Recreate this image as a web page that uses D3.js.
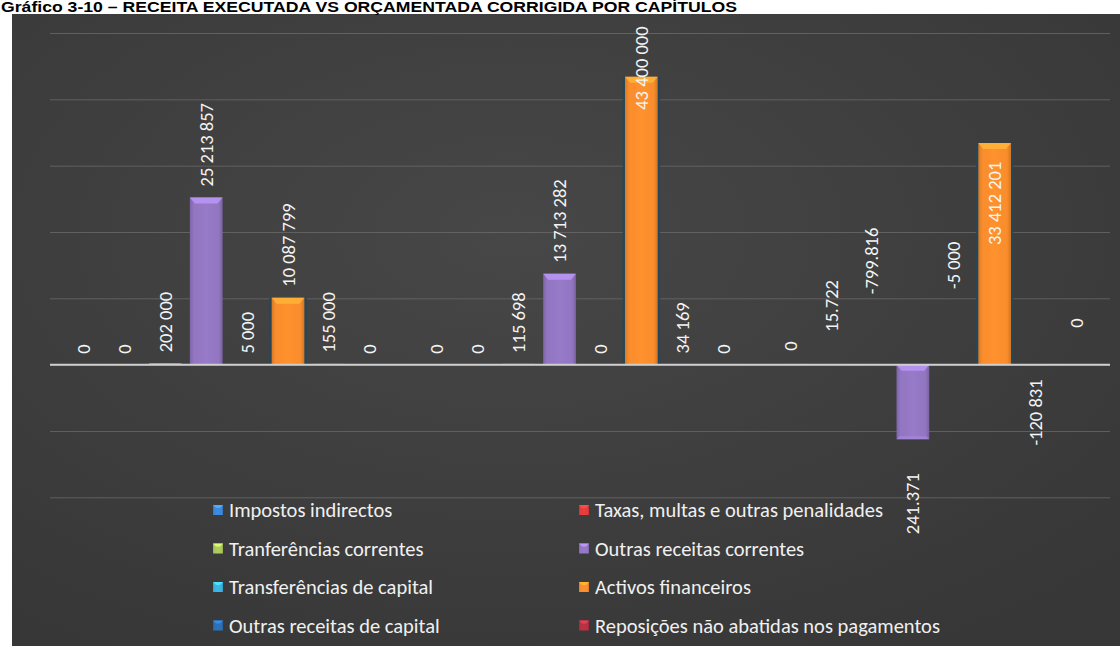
<!DOCTYPE html>
<html>
<head>
<meta charset="utf-8">
<script src="https://cdn.jsdelivr.net/npm/d3@7/dist/d3.min.js"></script>
<style>
  html, body { margin: 0; padding: 0; background: #ffffff; }
  svg { display: block; }
</style>
</head>
<body>
<svg id="chart" width="1120" height="646"></svg>
<script>
// ---- data ---------------------------------------------------------------
const categories = ["Grupo 1", "Grupo 2", "Grupo 3"];

const seriesNames = [
  "Impostos indirectos",
  "Taxas, multas e outras penalidades",
  "Tranferências correntes",
  "Outras receitas correntes",
  "Transferências de capital",
  "Activos financeiros",
  "Outras receitas de capital",
  "Reposições não abatidas nos pagamentos"
];

const valuesGrupo1 = [0, 0, 202000, 25213857, 5000, 10087799, 155000, 0];
const valuesGrupo2 = [0, 0, 115698, 13713282, 0, 43400000, 34169, 0];
const valuesGrupo3 = [0, 15.722, -799.816, -11241371, -5000, 33412201, -120831, 0];

const labelsGrupo1 = ["0", "0", "202 000", "25 213 857", "5 000", "10 087 799", "155 000", "0"];
const labelsGrupo2 = ["0", "0", "115 698", "13 713 282", "0", "43 400 000", "34 169", "0"];
const labelsGrupo3 = ["0", "15.722", "-799.816", "241.371", "-5 000", "33 412 201", "-120 831", "0"];

const gridValues = [-20e6, -10e6, 0, 10e6, 20e6, 30e6, 40e6, 50e6];

// ---- presentation -----------------------------------------------------------
const seriesColors = ["#3c84d6", "#df3b3b", "#a9c25a", "#8f74be", "#39aedb", "#f58a2b", "#2b6cb2", "#b22f42"];
const seriesOutline = [null, null, null, null, null, "#22465a", null, null];

// vertical nudges (px) for data labels that were moved by hand
const labelNudgeGrupo1 = [0, 0, 0, 0, 0, 0, 0, 0];
const labelNudgeGrupo2 = [0, 0, 0, 0, 0, 44, 0, 0];
const labelNudgeGrupo3 = [-3, -22, -151, 20, -137, 113, 0, -26];

const values = [valuesGrupo1, valuesGrupo2, valuesGrupo3];
const labels = [labelsGrupo1, labelsGrupo2, labelsGrupo3];
const nudges = [labelNudgeGrupo1, labelNudgeGrupo2, labelNudgeGrupo3];

const W = 1120, H = 646;
const plot = { left: 50, right: 1110, top: 33, bottom: 497.3 };

const svg = d3.select("#chart");
const defs = svg.append("defs");

// chart background
const bg = defs.append("radialGradient").attr("id", "bgGrad")
  .attr("cx", "45%").attr("cy", "35%").attr("r", "75%");
bg.append("stop").attr("offset", "0%").attr("stop-color", "#474747");
bg.append("stop").attr("offset", "100%").attr("stop-color", "#373737");

svg.append("rect").attr("x", 12).attr("y", 14).attr("width", W - 12).attr("height", H - 14)
  .attr("fill", "url(#bgGrad)");

// title
svg.append("text")
  .attr("x", 1).attr("y", 11.5)
  .attr("font-family", "'Liberation Sans Narrow', 'Arial Narrow', 'Liberation Sans', Arial, sans-serif")
  .attr("font-weight", "bold").attr("font-size", 14)
  .attr("textLength", 736).attr("lengthAdjust", "spacingAndGlyphs")
  .attr("fill", "#000")
  .text("Gráfico 3-10 – RECEITA EXECUTADA VS ORÇAMENTADA CORRIGIDA POR CAPÍTULOS");

// ---- scales -------------------------------------------------------------------
const x0 = d3.scaleBand().domain(categories).range([plot.left, plot.right]).padding(0);
const x1 = d3.scaleBand().domain(d3.range(seriesNames.length))
  .range([0, x0.bandwidth()]).paddingInner(0.2).paddingOuter(0.42);
const y = d3.scaleLinear().domain([-20e6, 50e6]).range([plot.bottom, plot.top]);

// gridlines
const grid = svg.append("g").attr("transform", `translate(${plot.left},0)`)
  .call(d3.axisLeft(y).tickValues(gridValues).tickSize(-(plot.right - plot.left)).tickFormat(""));
grid.select(".domain").remove();
grid.selectAll(".tick line").attr("stroke", "#6c6c6c").attr("stroke-width", 1).attr("opacity", 0.75);

// gradients for bars & legend keys
seriesColors.forEach((c, i) => {
  const base = d3.color(c);
  const g = defs.append("linearGradient").attr("id", "barGrad" + i)
    .attr("x1", "0%").attr("x2", "100%").attr("y1", "0%").attr("y2", "0%");
  g.append("stop").attr("offset", "0%").attr("stop-color", base.darker(0.35));
  g.append("stop").attr("offset", "12%").attr("stop-color", base.brighter(0.05));
  g.append("stop").attr("offset", "50%").attr("stop-color", base.brighter(0.15));
  g.append("stop").attr("offset", "88%").attr("stop-color", base.brighter(0.05));
  g.append("stop").attr("offset", "100%").attr("stop-color", base.darker(0.45));
});

// ---- bars ------------------------------------------------------------------------
const bars = [];
categories.forEach((cat, ci) => {
  values[ci].forEach((v, si) => {
    bars.push({ cat, ci, si, v, label: labels[ci][si], nudge: nudges[ci][si] });
  });
});

const bw = x1.bandwidth();
const cx = d => x0(d.cat) + x1(d.si) + bw / 2;

const barG = svg.append("g");
bars.forEach(d => {
  const top = Math.min(y(d.v), y(0));
  const h = Math.abs(y(d.v) - y(0));
  if (h <= 0) return;
  const x = cx(d) - bw / 2;
  if (seriesOutline[d.si]) {
    barG.append("rect").attr("x", x - 2.5).attr("y", top).attr("width", bw + 5).attr("height", h)
      .attr("fill", seriesOutline[d.si]).attr("opacity", 0.85);
  }
  barG.append("rect").attr("x", x).attr("y", top).attr("width", bw).attr("height", h)
    .attr("fill", `url(#barGrad${d.si})`);
  if (h > 6) {
    const b = 5;
    barG.append("path")
      .attr("d", `M${x},${top}L${x + bw},${top}L${x + bw - b},${top + b + 1}L${x + b},${top + b + 1}Z`)
      .attr("fill", d3.color(seriesColors[d.si]).brighter(0.7)).attr("opacity", 0.9);
    if (d.v < 0) {
      const bt = top + h;
      barG.append("path")
        .attr("d", `M${x},${bt}L${x + bw},${bt}L${x + bw - 3},${bt - 3}L${x + 3},${bt - 3}Z`)
        .attr("fill", d3.color(seriesColors[d.si]).brighter(0.4)).attr("opacity", 0.8);
    }
  }
});

// zero axis
svg.append("line").attr("x1", plot.left).attr("x2", plot.right)
  .attr("y1", y(0)).attr("y2", y(0))
  .attr("stroke", "#cfcfcf").attr("stroke-width", 2);

// ---- data labels (rotated) ----------------------------------------------------------
const labelFont = "Carlito, Calibri, Lato, 'Open Sans', sans-serif";
svg.append("g").selectAll("text").data(bars).join("text")
  .attr("transform", d => {
    const ly = d.v >= 0 ? y(d.v) - 11 + d.nudge : y(d.v) + 14 + d.nudge;
    return `translate(${cx(d)},${ly}) rotate(-90)`;
  })
  .attr("text-anchor", d => d.v >= 0 ? "start" : "end")
  .attr("dominant-baseline", "central")
  .attr("font-family", labelFont).attr("font-size", 18.5)
  .attr("fill", "#f4f4f4")
  .text(d => d.label);

// ---- legend ------------------------------------------------------------------------
const legendCols = [213, 579];
const legendTop = 510, legendStep = 38.5;
const legend = svg.append("g");
seriesNames.forEach((name, i) => {
  const lx = legendCols[i % 2];
  const ly = legendTop + Math.floor(i / 2) * legendStep;
  legend.append("rect").attr("x", lx).attr("y", ly - 5).attr("width", 10).attr("height", 10)
    .attr("fill", `url(#barGrad${i})`);
  legend.append("path")
    .attr("d", `M${lx},${ly - 5}L${lx + 10},${ly - 5}L${lx + 7},${ly - 2}L${lx + 3},${ly - 2}Z`)
    .attr("fill", d3.color(seriesColors[i]).brighter(0.8)).attr("opacity", 0.9);
  legend.append("text").attr("x", lx + 16).attr("y", ly)
    .attr("dominant-baseline", "central")
    .attr("font-family", labelFont).attr("font-size", 20.5)
    .attr("fill", "#f0f0f0")
    .text(name);
});
</script>
</body>
</html>
